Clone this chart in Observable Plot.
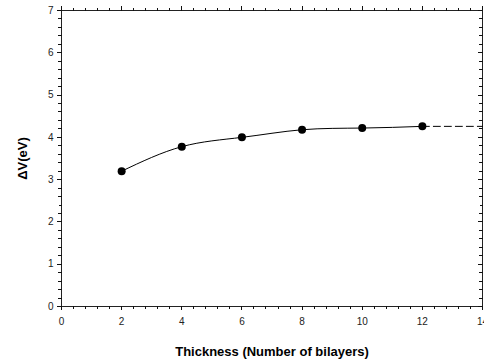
<!DOCTYPE html>
<html><head><meta charset="utf-8">
<script src="https://cdn.jsdelivr.net/npm/d3@7"></script>
<script src="https://cdn.jsdelivr.net/npm/@observablehq/plot@0.6"></script>
<style>
html,body{margin:0;padding:0;background:#fff;overflow:hidden;}
svg{font-family:"Liberation Sans",Arial,sans-serif;}
g[aria-label="y-axis label"] text, g[aria-label="x-axis label"] text{font-weight:bold;font-size:13px;fill:#000;}
</style></head>
<body><div id="chart"></div>
<script>
const thickness = [2, 4, 6, 8, 10, 12];
const deltaV = [3.20, 3.78, 4.00, 4.18, 4.22, 4.26];
const extX = [12, 14];
const extY = [4.26, 4.26];
const xTicks = [0, 2, 4, 6, 8, 10, 12, 14];
const yTicks = [0, 1, 2, 3, 4, 5, 6, 7];

const pts = thickness.map((x, i) => ({x, y: deltaV[i]}));
const ext = extX.map((x, i) => ({x, y: extY[i]}));
const xMinor = d3.range(0, 36).map(i => +(i * 0.4).toFixed(2));
const yMinor = d3.range(0, 36).map(i => +(i * 0.2).toFixed(2));

const tickShape = {draw(context, l) { context.moveTo(0, 0); context.lineTo(0, -l); }};
function ticks(data, dim, frameAnchor, rotate, length) {
  const o = {frameAnchor, rotate, length, anchor: "start", shape: tickShape,
             stroke: "#111", strokeWidth: 1, shapeRendering: "crispEdges"};
  o[dim] = d => d;
  return Plot.vector(data, o);
}

const chart = Plot.plot({
  width: 484, height: 364,
  marginLeft: 61, marginRight: 2, marginTop: 10, marginBottom: 58,
  style: {fontSize: "10px", fontFamily: "Liberation Sans, Arial, sans-serif", color: "#000", overflow: "visible"},
  x: {domain: [0, 14]},
  y: {domain: [0, 7]},
  marks: [
    Plot.frame({stroke: "#222", strokeWidth: 1, shapeRendering: "crispEdges"}),
    Plot.axisX(xTicks, {anchor: "bottom", tickSize: 4, tickPadding: 7, tickFormat: d => d, fill: "#222",
      label: "Thickness (Number of bilayers)", labelAnchor: "center", labelArrow: "none", labelOffset: 49,
      stroke: "#111", shapeRendering: "crispEdges"}),
    Plot.axisY(yTicks, {anchor: "left", tickSize: 4, tickPadding: 4, tickFormat: d => d, fill: "#222",
      label: "ΔV(eV)", labelAnchor: "center", labelArrow: "none", labelOffset: 44,
      stroke: "#111", shapeRendering: "crispEdges"}),
    // minor and mirrored ticks
    ticks(xMinor, "x", "bottom", 180, 2),
    ticks(xMinor, "x", "top", 0, 2),
    ticks(xTicks, "x", "top", 0, 4),
    ticks(yMinor, "y", "left", -90, 3),
    ticks(yMinor, "y", "right", -90, 3),
    ticks(yTicks, "y", "right", -90, 4),
    Plot.line(pts, {x: "x", y: "y", curve: "natural", stroke: "#000", strokeWidth: 1}),
    Plot.line(ext, {x: "x", y: "y", stroke: "#000", strokeWidth: 1, strokeDasharray: "7,4"}),
    Plot.dot(pts, {x: "x", y: "y", r: 4, fill: "#000", stroke: "none"})
  ]
});
document.getElementById("chart").appendChild(chart);
</script>
</body></html>
